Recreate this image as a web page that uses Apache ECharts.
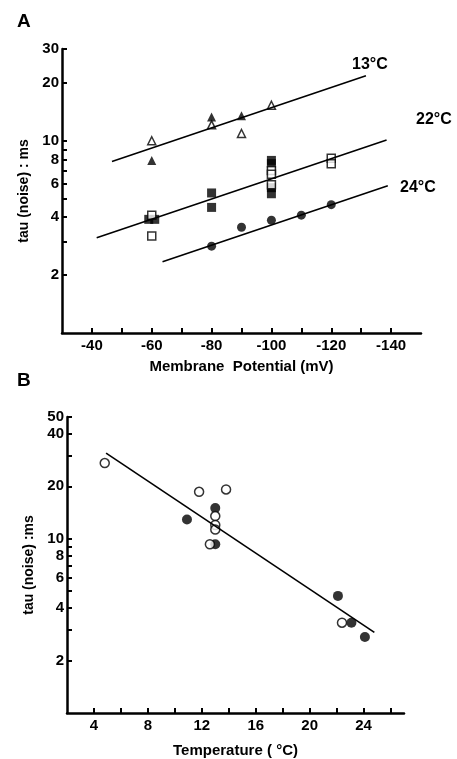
<!DOCTYPE html>
<html>
<head>
<meta charset="utf-8">
<script src="https://cdn.jsdelivr.net/npm/echarts@6/dist/echarts.min.js"></script>
<style>
html,body{margin:0;padding:0;background:#fff;}
#chart{width:457px;height:759px;}
</style>
</head>
<body>
<div id="chart"></div>
<script>
// ---------- Panel A: tau vs membrane potential ----------
const t13Open   = [[-60, 10.0], [-80, 12.1], [-90, 10.9], [-100, 15.3]];
const t13Filled = [[-60, 7.9], [-80, 13.3], [-90, 13.5]];
const t13Fit    = [[-46.7, 7.8], [-131.6, 21.8]];

const t22Open   = [[-60, 4.1], [-60, 3.2], [-100, 7.0], [-100, 6.7], [-100, 5.9], [-120, 8.1], [-120, 7.6]];
const t22Filled = [[-59, 3.9], [-61, 3.9], [-80, 5.35], [-80, 4.5], [-100, 7.9], [-100, 7.6], [-100, 5.7], [-100, 5.3]];
const t22Fit    = [[-41.6, 3.13], [-138.5, 10.1]];

const t24Filled = [[-80, 2.83], [-90, 3.55], [-100, 3.86], [-110, 4.1], [-120, 4.65]];
const t24Fit    = [[-63.6, 2.35], [-138.9, 5.84]];

const aXTicks  = [-140, -130, -120, -110, -100, -90, -80, -70, -60, -50, -40];
const aXLabels = [-140, -120, -100, -80, -60, -40];
const aYTicks  = [2, 3, 4, 5, 6, 7, 8, 9, 10, 20, 30];
const aYLabels = [2, 4, 6, 8, 10, 20, 30];

// ---------- Panel B: tau vs temperature ----------
const bOpen   = [[4.8, 27.2], [11.8, 18.6], [13.8, 19.2], [13.0, 13.5], [13.0, 12.0], [13.0, 11.3], [12.6, 9.3], [22.4, 3.3]];
const bFilled = [[13.0, 15.0], [10.9, 12.9], [13.0, 9.3], [22.1, 4.7], [23.1, 3.3], [24.1, 2.73]];
const bFit    = [[4.9, 31], [24.8, 2.9]];

const bXTicks  = [4, 6, 8, 10, 12, 14, 16, 18, 20, 22, 24, 26];
const bXLabels = [4, 8, 12, 16, 20, 24];
const bYTicks  = [2, 3, 4, 5, 6, 7, 8, 9, 10, 20, 30, 40, 50];
const bYLabels = [2, 4, 6, 8, 10, 20, 40, 50];

const FONT = 'Liberation Sans, Arial, sans-serif';
const lbl = {color: '#000', fontFamily: FONT, fontWeight: 'bold', fontSize: 15};
const axLine = {show: true, onZero: false, lineStyle: {color: '#000', width: 2.5}};

const chart = echarts.init(document.getElementById('chart'), null, {renderer: 'canvas'});

function openStyle(){ return {color: '#fff', borderColor: '#000', borderWidth: 1.5}; }
function fillStyle(){ return {color: '#000', borderColor: '#000', borderWidth: 0}; }

const option = {
  backgroundColor: '#fff',
  animation: false,
  title: [
    {text: 'A', left: 12, top: 7, textStyle: {fontFamily: FONT, fontWeight: 'bold', fontSize: 19, color: '#000'}},
    {text: 'B', left: 12, top: 366, textStyle: {fontFamily: FONT, fontWeight: 'bold', fontSize: 19, color: '#000'}}
  ],
  grid: [
    {left: 62, top: 49, width: 359, height: 284},
    {left: 67, top: 417, width: 337, height: 300}
  ],
  xAxis: [
    {
      gridIndex: 0, type: 'value', inverse: true, min: -150, max: -30,
      name: 'Membrane  Potential (mV)', nameLocation: 'middle', nameGap: 26,
      nameTextStyle: {fontFamily: FONT, fontWeight: 'bold', fontSize: 15, color: '#000'},
      axisLine: axLine,
      axisTick: {show: true, inside: true, length: 5, customValues: aXTicks, lineStyle: {color: '#000', width: 2}},
      axisLabel: Object.assign({customValues: aXLabels, margin: 5}, lbl),
      splitLine: {show: false}
    },
    {
      gridIndex: 1, type: 'value', min: 2, max: 27,
      name: 'Temperature ( \u00B0C)', nameLocation: 'middle', nameGap: 30,
      nameTextStyle: {fontFamily: FONT, fontWeight: 'bold', fontSize: 15, color: '#000'},
      axisLine: axLine,
      axisTick: {show: true, inside: true, length: 5, customValues: bXTicks, lineStyle: {color: '#000', width: 2}},
      axisLabel: Object.assign({customValues: bXLabels, margin: 5}, lbl),
      splitLine: {show: false}
    }
  ],
  yAxis: [
    {
      gridIndex: 0, type: 'log', logBase: 10, min: 1, max: 30,
      name: 'tau (noise) : ms', nameLocation: 'middle', nameGap: 20,
      nameTextStyle: {fontFamily: FONT, fontWeight: 'bold', fontSize: 14, color: '#000'},
      axisLine: axLine,
      axisTick: {show: true, inside: true, length: 5, customValues: aYTicks, lineStyle: {color: '#000', width: 2}},
      axisLabel: Object.assign({customValues: aYLabels, margin: 3}, lbl),
      splitLine: {show: false}, minorTick: {show: false}
    },
    {
      gridIndex: 1, type: 'log', logBase: 10, min: 1, max: 50,
      name: 'tau (noise) :ms', nameLocation: 'middle', nameGap: 23,
      nameTextStyle: {fontFamily: FONT, fontWeight: 'bold', fontSize: 14, color: '#000'},
      axisLine: axLine,
      axisTick: {show: true, inside: true, length: 5, customValues: bYTicks, lineStyle: {color: '#000', width: 2}},
      axisLabel: Object.assign({customValues: bYLabels, margin: 3}, lbl),
      splitLine: {show: false}, minorTick: {show: false}
    }
  ],
  series: [
    {type: 'line', xAxisIndex: 0, yAxisIndex: 0, data: t13Fit, symbol: 'none', lineStyle: {color: '#000', width: 1.6}},
    {type: 'line', xAxisIndex: 0, yAxisIndex: 0, data: t22Fit, symbol: 'none', lineStyle: {color: '#000', width: 1.6}},
    {type: 'line', xAxisIndex: 0, yAxisIndex: 0, data: t24Fit, symbol: 'none', lineStyle: {color: '#000', width: 1.6}},
    {type: 'scatter', xAxisIndex: 0, yAxisIndex: 0, data: t13Open, symbol: 'triangle', symbolSize: 8, itemStyle: openStyle()},
    {type: 'scatter', xAxisIndex: 0, yAxisIndex: 0, data: t13Filled, symbol: 'triangle', symbolSize: 9, itemStyle: fillStyle()},
    {type: 'scatter', xAxisIndex: 0, yAxisIndex: 0, data: t22Filled, symbol: 'rect', symbolSize: 9, itemStyle: fillStyle()},
    {type: 'scatter', xAxisIndex: 0, yAxisIndex: 0, data: t22Open, symbol: 'rect', symbolSize: 8, itemStyle: openStyle()},
    {type: 'scatter', xAxisIndex: 0, yAxisIndex: 0, data: t24Filled, symbol: 'circle', symbolSize: 9, itemStyle: fillStyle()},

    {type: 'line', xAxisIndex: 1, yAxisIndex: 1, data: bFit, symbol: 'none', lineStyle: {color: '#000', width: 1.6}},
    {type: 'scatter', xAxisIndex: 1, yAxisIndex: 1, data: bFilled, symbol: 'circle', symbolSize: 10, itemStyle: fillStyle()},
    {type: 'scatter', xAxisIndex: 1, yAxisIndex: 1, data: bOpen, symbol: 'circle', symbolSize: 9, itemStyle: openStyle()}
  ],
  graphic: [
    {type: 'text', left: 352, top: 57, style: {text: '13\u00B0C', fontFamily: FONT, fontWeight: 'bold', fontSize: 16, fill: '#000'}},
    {type: 'text', left: 416, top: 112, style: {text: '22\u00B0C', fontFamily: FONT, fontWeight: 'bold', fontSize: 16, fill: '#000'}},
    {type: 'text', left: 400, top: 180, style: {text: '24\u00B0C', fontFamily: FONT, fontWeight: 'bold', fontSize: 16, fill: '#000'}}
  ]
};
chart.setOption(option);
</script>
</body>
</html>
